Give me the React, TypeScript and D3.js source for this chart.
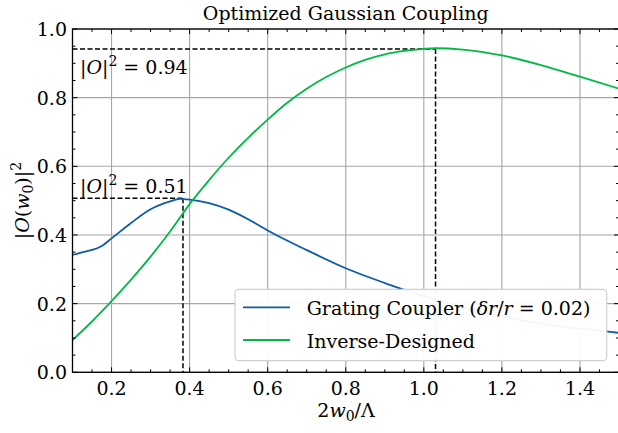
import React from "react";
import * as d3 from "d3";

const gratingX = [0.1, 0.13, 0.175, 0.2, 0.25, 0.3, 0.35, 0.375, 0.4, 0.45, 0.5, 0.55, 0.6, 0.7, 0.8, 0.9, 1.0, 1.1, 1.2, 1.3, 1.4, 1.5];
const gratingY = [0.342, 0.351, 0.368, 0.39, 0.435, 0.475, 0.498, 0.505, 0.503, 0.493, 0.474, 0.446, 0.413, 0.356, 0.303, 0.26, 0.222, 0.19, 0.164, 0.142, 0.127, 0.115];

const inverseX = [0.1, 0.15, 0.2, 0.25, 0.3, 0.35, 0.4, 0.45, 0.5, 0.55, 0.6, 0.65, 0.7, 0.75, 0.8, 0.85, 0.9, 0.95, 1.0, 1.03, 1.1, 1.2, 1.3, 1.4, 1.5];
const inverseY = [0.094, 0.148, 0.207, 0.27, 0.337, 0.41, 0.49, 0.56, 0.625, 0.683, 0.736, 0.785, 0.826, 0.86, 0.888, 0.91, 0.926, 0.936, 0.942, 0.944, 0.94, 0.923, 0.895, 0.861, 0.826];

const xMajorTicks = [0.2, 0.4, 0.6, 0.8, 1.0, 1.2, 1.4];
const xTickLabels = ["0.2", "0.4", "0.6", "0.8", "1.0", "1.2", "1.4"];
const yMajorTicks = [0, 0.2, 0.4, 0.6, 0.8, 1.0];
const yTickLabels = ["0.0", "0.2", "0.4", "0.6", "0.8", "1.0"];

const peakGrating = [0.383, 0.507];
const peakInverse = [1.03, 0.942];
const labelGrating = "0.51";
const labelInverse = "0.94";

const title = "Optimized Gaussian Coupling";
const legendLabels = ["Grating Coupler", "Inverse-Designed"];

const BLUE = "#0C5DA5";
const GREEN = "#00B945";
const FONT = "DejaVu Serif";

export default function App() {
  const W = 618, H = 433;
  const x = d3.scaleLinear().domain([0.1, 1.5]).range([72.5, 619]);
  const y = d3.scaleLinear().domain([0, 1]).range([372.3, 29]);
  const [x0, x1] = x.range();
  const [y0, y1] = y.range();

  const xMinor = d3.range(0.1, 1.5001, 0.05).filter(v => !xMajorTicks.some(m => Math.abs(m - v) < 1e-6));
  const yMinor = d3.range(0, 1.0001, 0.05).filter(v => !yMajorTicks.some(m => Math.abs(m - v) < 1e-6));

  const line = d3.line<[number, number]>().x(d => x(d[0])).y(d => y(d[1])).curve(d3.curveMonotoneX);
  const gPath = line(gratingX.map((v, i) => [v, gratingY[i]]) as [number, number][]) || "";
  const iPath = line(inverseX.map((v, i) => [v, inverseY[i]]) as [number, number][]) || "";

  const fs = 19;
  const dash = "5,2.5";

  const lx = 235, ly = 289.3, lw = 371.7, lh = 71.4;
  const ts = { fontFamily: FONT };

  return (
    <svg width={W} height={H} style={{ position: "absolute", left: 0, top: 0, background: "#fff", fontFamily: FONT }}>
      <defs>
        <clipPath id="plotclip">
          <rect x={x0} y={y1} width={x1 - x0} height={y0 - y1} />
        </clipPath>
      </defs>
      {xMajorTicks.map((t, i) => (
        <line key={"gx" + i} x1={x(t)} x2={x(t)} y1={y1} y2={y0} stroke="#a6a6a6" strokeWidth={1.1} />
      ))}
      {yMajorTicks.map((t, i) => (
        <line key={"gy" + i} x1={x0} x2={x1} y1={y(t)} y2={y(t)} stroke="#a6a6a6" strokeWidth={1.1} />
      ))}
      <g stroke="#000" strokeWidth={1.5} strokeDasharray={dash} fill="none">
        <line x1={x0} x2={x(peakInverse[0])} y1={y(peakInverse[1])} y2={y(peakInverse[1])} />
        <line x1={x(peakInverse[0])} x2={x(peakInverse[0])} y1={y(peakInverse[1])} y2={y0} />
        <line x1={x0} x2={x(peakGrating[0])} y1={y(peakGrating[1])} y2={y(peakGrating[1])} />
        <line x1={x(peakGrating[0])} x2={x(peakGrating[0])} y1={y(peakGrating[1])} y2={y0} />
      </g>
      <g clipPath="url(#plotclip)" fill="none" strokeWidth={1.8}>
        <path d={gPath} stroke={BLUE} />
        <path d={iPath} stroke={GREEN} />
      </g>
      <text x={80} y={74} fontSize={fs} style={ts}>
        <tspan>|</tspan><tspan fontStyle="italic">O</tspan><tspan>|</tspan>
        <tspan fontSize={14} dy={-8}>2</tspan>
        <tspan dy={8}>{" = " + labelInverse}</tspan>
      </text>
      <text x={80} y={192.5} fontSize={fs} style={ts}>
        <tspan>|</tspan><tspan fontStyle="italic">O</tspan><tspan>|</tspan>
        <tspan fontSize={14} dy={-8}>2</tspan>
        <tspan dy={8}>{" = " + labelGrating}</tspan>
      </text>
      <rect x={x0} y={y1} width={x1 - x0} height={y0 - y1} fill="none" stroke="#000" strokeWidth={1.3} />
      <g stroke="#000" strokeWidth={1}>
        {xMajorTicks.map((t, i) => (
          <g key={"xt" + i}>
            <line x1={x(t)} x2={x(t)} y1={y0} y2={y0 - 5} />
            <line x1={x(t)} x2={x(t)} y1={y1} y2={y1 + 5} />
          </g>
        ))}
        {xMinor.map((t, i) => (
          <g key={"xm" + i}>
            <line x1={x(t)} x2={x(t)} y1={y0} y2={y0 - 3} />
            <line x1={x(t)} x2={x(t)} y1={y1} y2={y1 + 3} />
          </g>
        ))}
        {yMajorTicks.map((t, i) => (
          <g key={"yt" + i}>
            <line x1={x0} x2={x0 + 5} y1={y(t)} y2={y(t)} />
            <line x1={x1} x2={x1 - 5} y1={y(t)} y2={y(t)} />
          </g>
        ))}
        {yMinor.map((t, i) => (
          <g key={"ym" + i}>
            <line x1={x0} x2={x0 + 3} y1={y(t)} y2={y(t)} />
            <line x1={x1} x2={x1 - 3} y1={y(t)} y2={y(t)} />
          </g>
        ))}
      </g>
      {xMajorTicks.map((t, i) => (
        <text key={"xl" + i} x={x(t)} y={394.5} fontSize={fs} textAnchor="middle" style={ts}>{xTickLabels[i]}</text>
      ))}
      {yMajorTicks.map((t, i) => (
        <text key={"yl" + i} x={67} y={y(t) + 7} fontSize={fs} textAnchor="end" style={ts}>{yTickLabels[i]}</text>
      ))}
      <rect x={lx} y={ly} width={lw} height={lh} rx={4} fill="#fff" fillOpacity={0.95} stroke="#d0d0d0" strokeWidth={1.2} />
      <line x1={243} x2={290} y1={307.3} y2={307.3} stroke={BLUE} strokeWidth={1.8} />
      <line x1={243} x2={290} y1={340} y2={340} stroke={GREEN} strokeWidth={1.8} />
      <text x={306.7} y={315} fontSize={fs} style={ts}>
        <tspan>{legendLabels[0] + " ("}</tspan>
        <tspan fontStyle="italic">δr</tspan>
        <tspan>/</tspan>
        <tspan fontStyle="italic">r</tspan>
        <tspan>{" = 0.02)"}</tspan>
      </text>
      <text x={306.7} y={347.7} fontSize={fs} style={ts}>{legendLabels[1]}</text>
      <text x={(x0 + x1) / 2} y={20} fontSize={fs} textAnchor="middle" style={ts}>{title}</text>
      <text x={346} y={417} fontSize={fs} textAnchor="middle" style={ts}>
        <tspan>2</tspan><tspan fontStyle="italic">w</tspan>
        <tspan fontSize={14} dy={4}>0</tspan>
        <tspan dy={-4}>/Λ</tspan>
      </text>
      <text transform="translate(29,200.6) rotate(-90)" fontSize={fs} textAnchor="middle" style={ts}>
        <tspan>|</tspan><tspan fontStyle="italic">O</tspan><tspan>(</tspan><tspan fontStyle="italic">w</tspan>
        <tspan fontSize={14} dy={4}>0</tspan>
        <tspan dy={-4}>)|</tspan>
        <tspan fontSize={14} dy={-8}>2</tspan>
      </text>
    </svg>
  );
}
